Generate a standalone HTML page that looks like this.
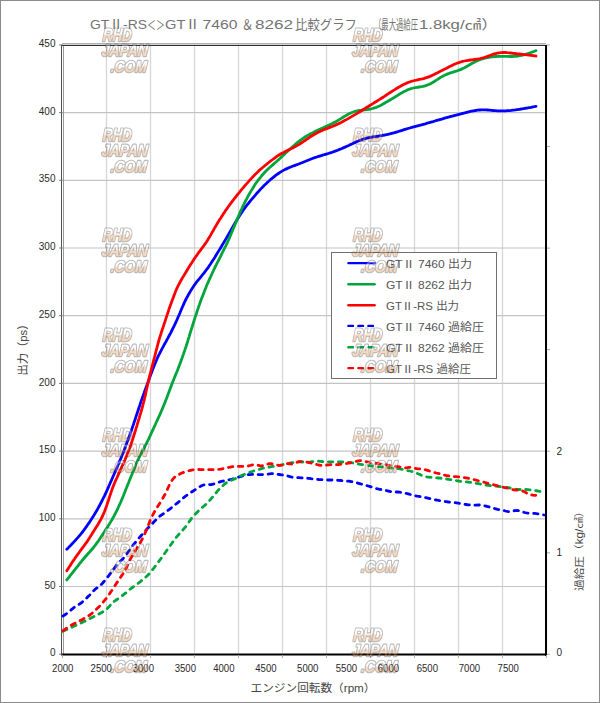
<!DOCTYPE html>
<html><head><meta charset="utf-8"><title>GTII-RS vs GTII 7460 &amp; 8262</title>
<style>
html,body{margin:0;padding:0;background:#fff;}
body{width:600px;height:703px;overflow:hidden;}
svg{display:block;}
text{font-family:"Liberation Sans","Noto Sans CJK JP",sans-serif;}
.t{fill:#2a2a2a;font-size:10px;}
.wm text{font-family:"Liberation Sans",sans-serif;font-weight:bold;font-style:italic;fill:url(#wg);stroke:#404040;stroke-width:2.4px;paint-order:stroke;stroke-linejoin:round;}
</style></head><body>
<svg width="600" height="703" viewBox="0 0 600 703">
<defs><linearGradient id="wg" gradientUnits="userSpaceOnUse" x1="0" y1="-12.5" x2="0" y2="0.5"><stop offset="0" stop-color="#ffffff"/><stop offset="0.45" stop-color="#ffffff"/><stop offset="0.55" stop-color="#f39a4c"/><stop offset="1" stop-color="#f08d37"/></linearGradient></defs>
<rect x="0" y="0" width="600" height="703" fill="#fff"/>

<rect x="0.5" y="0.5" width="599" height="702" fill="none" stroke="#8c8c8c" stroke-width="1"/>
<line x1="106.5" y1="44" x2="106.5" y2="653" stroke="#d6d6d6" stroke-width="1.3"/>
<line x1="150.5" y1="44" x2="150.5" y2="653" stroke="#d6d6d6" stroke-width="1.3"/>
<line x1="194.5" y1="44" x2="194.5" y2="653" stroke="#d6d6d6" stroke-width="1.3"/>
<line x1="238.5" y1="44" x2="238.5" y2="653" stroke="#d6d6d6" stroke-width="1.3"/>
<line x1="282.5" y1="44" x2="282.5" y2="653" stroke="#d6d6d6" stroke-width="1.3"/>
<line x1="326.5" y1="44" x2="326.5" y2="653" stroke="#d6d6d6" stroke-width="1.3"/>
<line x1="370.5" y1="44" x2="370.5" y2="653" stroke="#d6d6d6" stroke-width="1.3"/>
<line x1="414.5" y1="44" x2="414.5" y2="653" stroke="#d6d6d6" stroke-width="1.3"/>
<line x1="458.5" y1="44" x2="458.5" y2="653" stroke="#d6d6d6" stroke-width="1.3"/>
<line x1="502.5" y1="44" x2="502.5" y2="653" stroke="#d6d6d6" stroke-width="1.3"/>
<line x1="546.5" y1="44" x2="546.5" y2="653" stroke="#d6d6d6" stroke-width="1.3"/>
<line x1="62" y1="44.9" x2="545" y2="44.9" stroke="#c4c4c4" stroke-width="1.2"/>
<line x1="62" y1="112.6" x2="545" y2="112.6" stroke="#c4c4c4" stroke-width="1.2"/>
<line x1="62" y1="180.3" x2="545" y2="180.3" stroke="#c4c4c4" stroke-width="1.2"/>
<line x1="62" y1="248.0" x2="545" y2="248.0" stroke="#c4c4c4" stroke-width="1.2"/>
<line x1="62" y1="315.7" x2="545" y2="315.7" stroke="#c4c4c4" stroke-width="1.2"/>
<line x1="62" y1="383.4" x2="545" y2="383.4" stroke="#c4c4c4" stroke-width="1.2"/>
<line x1="62" y1="451.1" x2="545" y2="451.1" stroke="#c4c4c4" stroke-width="1.2"/>
<line x1="62" y1="518.8" x2="545" y2="518.8" stroke="#c4c4c4" stroke-width="1.2"/>
<line x1="62" y1="586.5" x2="545" y2="586.5" stroke="#c4c4c4" stroke-width="1.2"/>
<line x1="63.5" y1="45" x2="63.5" y2="654" stroke="#9a9a9a" stroke-width="1"/>
<line x1="62" y1="43.5" x2="546" y2="43.5" stroke="#b0b0b0" stroke-width="1"/>
<line x1="61.5" y1="45" x2="61.5" y2="655" stroke="#505050" stroke-width="1"/>
<line x1="61" y1="45.5" x2="547" y2="45.5" stroke="#303030" stroke-width="1.2"/>
<line x1="61" y1="654.5" x2="547" y2="654.5" stroke="#000" stroke-width="2"/>
<line x1="546" y1="45" x2="546" y2="656" stroke="#000" stroke-width="2"/>
<line x1="59" y1="44.9" x2="62.5" y2="44.9" stroke="#777" stroke-width="1"/>
<line x1="59" y1="112.6" x2="62.5" y2="112.6" stroke="#777" stroke-width="1"/>
<line x1="59" y1="180.3" x2="62.5" y2="180.3" stroke="#777" stroke-width="1"/>
<line x1="59" y1="248.0" x2="62.5" y2="248.0" stroke="#777" stroke-width="1"/>
<line x1="59" y1="315.7" x2="62.5" y2="315.7" stroke="#777" stroke-width="1"/>
<line x1="59" y1="383.4" x2="62.5" y2="383.4" stroke="#777" stroke-width="1"/>
<line x1="59" y1="451.1" x2="62.5" y2="451.1" stroke="#777" stroke-width="1"/>
<line x1="59" y1="518.8" x2="62.5" y2="518.8" stroke="#777" stroke-width="1"/>
<line x1="59" y1="586.5" x2="62.5" y2="586.5" stroke="#777" stroke-width="1"/>
<line x1="59" y1="654.2" x2="62.5" y2="654.2" stroke="#777" stroke-width="1"/>
<line x1="547" y1="654.3" x2="550" y2="654.3" stroke="#aaa" stroke-width="1"/>
<line x1="547" y1="552.8" x2="550" y2="552.8" stroke="#aaa" stroke-width="1"/>
<line x1="547" y1="451.2" x2="550" y2="451.2" stroke="#aaa" stroke-width="1"/>
<line x1="547" y1="349.6" x2="550" y2="349.6" stroke="#aaa" stroke-width="1"/>
<line x1="547" y1="248.1" x2="550" y2="248.1" stroke="#aaa" stroke-width="1"/>
<line x1="547" y1="146.5" x2="550" y2="146.5" stroke="#aaa" stroke-width="1"/>
<line x1="547" y1="45.0" x2="550" y2="45.0" stroke="#aaa" stroke-width="1"/>
<line x1="62.5" y1="655" x2="62.5" y2="658" stroke="#aaa" stroke-width="1"/>
<line x1="106.5" y1="655" x2="106.5" y2="658" stroke="#aaa" stroke-width="1"/>
<line x1="150.5" y1="655" x2="150.5" y2="658" stroke="#aaa" stroke-width="1"/>
<line x1="194.5" y1="655" x2="194.5" y2="658" stroke="#aaa" stroke-width="1"/>
<line x1="238.5" y1="655" x2="238.5" y2="658" stroke="#aaa" stroke-width="1"/>
<line x1="282.5" y1="655" x2="282.5" y2="658" stroke="#aaa" stroke-width="1"/>
<line x1="326.5" y1="655" x2="326.5" y2="658" stroke="#aaa" stroke-width="1"/>
<line x1="370.5" y1="655" x2="370.5" y2="658" stroke="#aaa" stroke-width="1"/>
<line x1="414.5" y1="655" x2="414.5" y2="658" stroke="#aaa" stroke-width="1"/>
<line x1="458.5" y1="655" x2="458.5" y2="658" stroke="#aaa" stroke-width="1"/>
<line x1="502.5" y1="655" x2="502.5" y2="658" stroke="#aaa" stroke-width="1"/>
<line x1="546.5" y1="655" x2="546.5" y2="658" stroke="#aaa" stroke-width="1"/>
<path d="M62.9,616.1 L64.6,615.0 L66.2,613.9 L67.8,612.7 L69.4,611.5 L70.9,610.1 L72.4,608.8 L73.9,607.6 L75.6,606.4 L77.3,605.4 L79.0,604.4 L80.7,603.3 L82.2,602.1 L83.7,600.8 L85.2,599.4 L86.7,598.0 L88.1,596.6 L89.5,595.2 L90.9,593.7 L92.2,592.3 L93.6,590.8 L95.0,589.4 L96.6,588.2 L98.1,586.9 L99.7,585.7 L101.3,584.4 L102.7,583.0 L104.0,581.5 L105.2,580.0 L106.5,578.4 L107.7,576.9 L109.0,575.3 L110.2,573.7 L111.4,572.1 L112.6,570.5 L113.8,568.9 L115.0,567.3 L116.2,565.7 L117.5,564.2 L118.9,562.8 L120.3,561.3 L121.7,559.9 L123.1,558.5 L124.5,557.0 L125.7,555.5 L126.9,553.8 L128.0,552.2 L129.2,550.6 L130.4,548.9 L131.5,547.3 L132.7,545.7 L133.9,544.1 L135.2,542.6 L136.5,541.1 L137.8,539.6 L139.1,538.0 L140.4,536.5 L141.7,535.0 L143.1,533.5 L144.4,532.0 L145.7,530.5 L147.0,529.0 L148.4,527.6 L149.8,526.1 L151.2,524.7 L152.6,523.3 L154.0,521.8 L155.4,520.4 L156.7,518.9 L158.1,517.5 L159.7,516.3 L161.3,515.1 L163.0,514.0 L164.6,512.9 L166.2,511.7 L167.8,510.5 L169.4,509.3 L171.0,508.1 L172.6,506.8 L174.1,505.6 L175.7,504.3 L177.2,503.1 L178.8,501.8 L180.3,500.5 L181.8,499.2 L183.3,497.9 L184.9,496.7 L186.5,495.5 L188.2,494.4 L189.8,493.2 L191.5,492.1 L193.2,491.0 L194.8,489.9 L196.5,488.8 L198.2,487.7 L199.9,486.7 L201.6,485.7 L203.5,485.0 L205.4,484.5 L207.3,484.4 L209.2,484.6 L211.2,484.6 L213.1,484.2 L215.0,483.6 L216.8,482.9 L218.7,482.3 L220.6,481.7 L222.6,481.2 L224.5,480.8 L226.5,480.3 L228.4,479.9 L230.4,479.5 L232.3,479.1 L234.3,478.5 L236.2,477.9 L238.1,477.3 L240.0,476.7 L241.9,476.1 L243.8,475.6 L245.8,475.1 L247.7,474.7 L249.7,474.5 L251.7,474.4 L253.7,474.5 L255.7,474.5 L257.7,474.6 L259.7,474.6 L261.7,474.6 L263.6,474.5 L265.6,474.4 L267.6,474.1 L269.6,473.8 L271.5,473.6 L273.5,473.7 L275.5,473.9 L277.5,474.2 L279.4,474.5 L281.4,474.8 L283.4,475.1 L285.4,475.4 L287.3,475.8 L289.2,476.4 L291.1,477.0 L293.0,477.4 L295.0,477.6 L297.0,477.7 L299.0,477.7 L301.0,477.8 L303.0,477.9 L305.0,478.1 L307.0,478.2 L309.0,478.4 L311.0,478.7 L313.0,478.9 L314.9,479.1 L316.9,479.3 L318.9,479.5 L320.9,479.6 L322.9,479.8 L324.9,479.9 L326.9,480.0 L328.9,480.0 L330.9,480.0 L332.9,480.0 L334.9,480.1 L336.9,480.2 L338.9,480.4 L340.9,480.5 L342.9,480.7 L344.9,480.9 L346.9,481.0 L348.9,481.2 L350.8,481.5 L352.8,481.9 L354.7,482.3 L356.7,482.8 L358.6,483.3 L360.5,483.9 L362.5,484.4 L364.4,484.9 L366.3,485.5 L368.2,486.0 L370.2,486.6 L372.1,487.2 L374.0,487.9 L375.9,488.4 L377.8,488.9 L379.8,489.3 L381.7,489.6 L383.7,490.0 L385.7,490.4 L387.6,490.8 L389.6,491.3 L391.5,491.7 L393.5,491.9 L395.5,492.0 L397.5,492.0 L399.5,492.1 L401.4,492.4 L403.4,492.8 L405.3,493.3 L407.3,493.7 L409.2,494.2 L411.1,494.7 L413.1,495.2 L415.0,495.7 L417.0,496.1 L419.0,496.4 L420.9,496.8 L422.9,497.1 L424.9,497.5 L426.8,497.9 L428.8,498.4 L430.7,498.9 L432.6,499.3 L434.6,499.7 L436.6,500.0 L438.5,500.4 L440.5,500.7 L442.5,501.1 L444.5,501.4 L446.4,501.7 L448.4,502.0 L450.4,502.2 L452.4,502.4 L454.4,502.6 L456.4,502.8 L458.4,503.1 L460.3,503.4 L462.3,503.8 L464.3,504.2 L466.2,504.5 L468.2,504.8 L470.2,504.9 L472.2,505.1 L474.2,505.2 L476.2,505.1 L478.2,505.0 L480.1,505.0 L482.1,505.3 L484.0,505.7 L486.0,506.1 L487.9,506.6 L489.9,507.2 L491.8,507.7 L493.7,508.3 L495.6,508.8 L497.6,509.3 L499.5,509.7 L501.5,510.0 L503.4,510.5 L505.4,511.0 L507.3,511.4 L509.2,511.6 L511.1,511.3 L513.1,510.9 L515.0,510.6 L517.0,510.4 L518.9,510.6 L520.8,511.1 L522.6,511.9 L524.5,512.5 L526.4,512.9 L528.4,513.1 L530.4,513.2 L532.4,513.2 L534.3,513.4 L536.3,513.6 L538.3,513.9 L540.3,514.3 L542.2,514.6 L544.2,515.0" fill="none" stroke="#0000ff" stroke-width="2.8" stroke-dasharray="4.4 5.6" stroke-linecap="round" stroke-linejoin="round"/>
<path d="M62.9,631.3 L64.7,630.5 L66.5,629.6 L68.3,628.8 L70.2,627.9 L72.0,627.1 L73.8,626.3 L75.6,625.5 L77.5,624.7 L79.3,623.8 L81.1,623.0 L82.9,622.1 L84.7,621.2 L86.5,620.3 L88.3,619.4 L90.1,618.5 L91.9,617.6 L93.7,616.7 L95.5,615.8 L97.3,615.0 L99.0,614.0 L100.8,613.1 L102.5,612.0 L104.1,610.8 L105.7,609.7 L107.3,608.5 L108.7,607.1 L110.0,605.6 L111.1,604.0 L112.5,602.6 L114.1,601.4 L115.7,600.3 L117.4,599.2 L119.0,598.0 L120.6,596.8 L122.2,595.6 L123.8,594.4 L125.4,593.2 L126.9,591.9 L128.5,590.6 L130.0,589.3 L131.6,588.1 L133.2,586.9 L134.9,585.8 L136.5,584.6 L138.1,583.4 L139.7,582.2 L141.2,580.9 L142.8,579.6 L144.3,578.3 L145.8,577.0 L147.3,575.7 L148.7,574.3 L150.0,572.8 L151.3,571.2 L152.5,569.7 L153.8,568.1 L155.0,566.5 L156.3,565.0 L157.5,563.4 L158.6,561.7 L159.8,560.1 L161.0,558.5 L162.2,556.9 L163.3,555.2 L164.5,553.6 L165.7,552.0 L166.8,550.3 L168.0,548.7 L169.1,547.1 L170.3,545.4 L171.5,543.8 L172.6,542.2 L173.8,540.6 L175.0,539.0 L176.2,537.4 L177.5,535.9 L178.8,534.4 L180.2,532.9 L181.5,531.4 L182.9,529.9 L184.2,528.4 L185.5,526.9 L186.7,525.3 L187.8,523.6 L189.0,522.0 L190.1,520.4 L191.3,518.7 L192.5,517.1 L193.8,515.6 L195.2,514.2 L196.6,512.8 L198.0,511.4 L199.5,510.0 L200.9,508.6 L202.4,507.3 L204.0,506.0 L205.5,504.7 L207.0,503.4 L208.4,501.9 L209.7,500.4 L211.0,498.9 L212.3,497.4 L213.6,495.8 L214.8,494.3 L216.1,492.8 L217.4,491.2 L218.7,489.7 L220.0,488.2 L221.4,486.8 L223.0,485.5 L224.5,484.2 L226.1,483.0 L227.8,482.0 L229.6,481.1 L231.4,480.3 L233.2,479.5 L235.0,478.7 L236.8,477.8 L238.6,476.9 L240.4,476.0 L242.3,475.2 L244.1,474.5 L246.0,473.7 L247.9,473.0 L249.7,472.3 L251.6,471.7 L253.5,471.0 L255.4,470.4 L257.3,469.8 L259.3,469.3 L261.2,468.7 L263.1,468.2 L265.1,467.8 L267.1,467.4 L269.0,467.1 L271.0,466.7 L273.0,466.4 L275.0,466.2 L276.9,465.9 L278.9,465.5 L280.9,465.0 L282.8,464.6 L284.7,464.1 L286.7,463.7 L288.7,463.3 L290.6,462.9 L292.6,462.6 L294.6,462.3 L296.6,462.0 L298.6,461.9 L300.5,461.9 L302.5,462.0 L304.5,462.1 L306.5,462.1 L308.5,462.1 L310.5,461.9 L312.5,461.6 L314.5,461.3 L316.5,461.2 L318.4,461.2 L320.4,461.4 L322.4,461.5 L324.4,461.7 L326.4,461.8 L328.4,461.8 L330.4,461.9 L332.4,461.9 L334.4,462.0 L336.4,462.0 L338.4,462.0 L340.4,462.0 L342.4,462.0 L344.4,462.1 L346.4,462.2 L348.4,462.4 L350.4,462.6 L352.4,462.9 L354.4,463.2 L356.3,463.6 L358.3,464.0 L360.3,464.3 L362.3,464.6 L364.2,464.9 L366.2,465.2 L368.2,465.5 L370.2,465.7 L372.2,466.0 L374.2,466.2 L376.2,466.4 L378.2,466.6 L380.2,466.8 L382.2,466.9 L384.1,467.2 L386.1,467.4 L388.1,467.6 L390.1,467.9 L392.1,468.1 L394.1,468.3 L396.1,468.5 L398.1,468.7 L400.1,468.9 L402.0,469.3 L404.0,469.7 L405.9,470.1 L407.9,470.6 L409.8,471.0 L411.8,471.5 L413.7,472.1 L415.6,472.7 L417.5,473.5 L419.3,474.2 L421.1,475.1 L422.9,475.9 L424.8,476.5 L426.7,476.9 L428.7,477.1 L430.7,477.3 L432.7,477.4 L434.7,477.6 L436.7,477.8 L438.7,478.0 L440.7,478.2 L442.7,478.5 L444.7,478.7 L446.6,479.0 L448.6,479.3 L450.6,479.6 L452.6,480.0 L454.5,480.3 L456.5,480.7 L458.5,481.0 L460.5,481.3 L462.5,481.5 L464.4,481.7 L466.4,481.9 L468.4,482.1 L470.4,482.3 L472.4,482.6 L474.4,482.9 L476.3,483.3 L478.3,483.6 L480.3,484.0 L482.2,484.4 L484.2,484.8 L486.2,485.1 L488.2,485.3 L490.2,485.5 L492.2,485.7 L494.2,485.9 L496.2,486.1 L498.1,486.3 L500.1,486.5 L502.1,486.8 L504.1,487.1 L506.1,487.4 L508.1,487.7 L510.0,488.0 L512.0,488.4 L514.0,488.8 L515.9,489.2 L517.9,489.4 L519.9,489.5 L521.9,489.4 L523.9,489.4 L525.8,489.5 L527.8,489.6 L529.8,489.8 L531.8,490.1 L533.8,490.4 L535.8,490.7 L537.8,491.0 L539.7,491.4 L541.7,491.7" fill="none" stroke="#00a53c" stroke-width="2.8" stroke-dasharray="4.4 5.6" stroke-linecap="round" stroke-linejoin="round"/>
<path d="M62.9,630.7 L64.6,629.6 L66.2,628.5 L67.9,627.4 L69.6,626.3 L71.2,625.2 L73.0,624.2 L74.8,623.3 L76.6,622.4 L78.3,621.5 L80.1,620.6 L81.9,619.7 L83.6,618.7 L85.4,617.7 L87.1,616.7 L88.8,615.7 L90.5,614.5 L92.0,613.3 L93.5,611.9 L95.0,610.6 L96.4,609.2 L97.9,607.8 L99.3,606.4 L100.6,604.9 L101.9,603.4 L103.3,601.9 L104.6,600.4 L105.9,598.9 L107.1,597.3 L108.2,595.7 L109.4,594.0 L110.5,592.3 L111.6,590.7 L112.7,589.0 L113.8,587.3 L114.9,585.7 L116.0,584.0 L117.1,582.4 L118.2,580.7 L119.4,579.0 L120.5,577.4 L121.6,575.7 L122.8,574.1 L123.9,572.4 L125.0,570.7 L125.9,569.0 L126.7,567.1 L127.4,565.3 L128.2,563.5 L129.0,561.6 L129.9,559.8 L130.9,558.1 L131.9,556.4 L132.9,554.6 L133.9,552.9 L135.0,551.2 L136.0,549.5 L137.1,547.8 L138.1,546.1 L139.2,544.4 L140.2,542.7 L141.2,541.0 L142.2,539.2 L143.1,537.4 L143.9,535.6 L144.8,533.8 L145.6,532.0 L146.4,530.1 L147.2,528.3 L147.9,526.4 L148.6,524.6 L149.3,522.7 L150.0,520.8 L150.8,519.0 L151.7,517.2 L152.6,515.4 L153.5,513.6 L154.4,511.8 L155.4,510.1 L156.4,508.4 L157.5,506.7 L158.6,505.1 L159.7,503.4 L160.8,501.7 L161.8,500.0 L162.8,498.2 L163.8,496.5 L164.8,494.8 L165.7,493.0 L166.6,491.2 L167.4,489.4 L168.2,487.5 L169.0,485.7 L169.9,483.9 L170.8,482.1 L171.9,480.5 L173.1,478.9 L174.4,477.4 L175.9,476.2 L177.6,475.1 L179.4,474.2 L181.2,473.3 L183.0,472.6 L184.9,471.9 L186.8,471.3 L188.7,470.8 L190.7,470.3 L192.6,469.9 L194.6,469.6 L196.6,469.4 L198.6,469.5 L200.6,469.6 L202.6,469.6 L204.6,469.7 L206.6,469.7 L208.6,469.7 L210.6,469.7 L212.6,469.6 L214.6,469.5 L216.6,469.4 L218.6,469.3 L220.6,469.1 L222.5,468.8 L224.5,468.5 L226.5,468.1 L228.4,467.5 L230.3,467.1 L232.3,466.7 L234.3,466.5 L236.3,466.4 L238.3,466.4 L240.3,466.4 L242.3,466.4 L244.3,466.5 L246.2,466.4 L248.2,466.0 L250.1,465.5 L252.0,465.0 L254.0,464.7 L255.9,464.8 L257.8,465.2 L259.8,465.6 L261.7,465.8 L263.6,465.6 L265.4,465.0 L267.3,464.3 L269.2,463.7 L271.0,463.6 L272.9,464.0 L274.8,464.6 L276.7,465.0 L278.7,465.3 L280.6,465.3 L282.5,465.0 L284.4,464.3 L286.3,463.8 L288.1,463.6 L289.9,463.9 L291.8,464.0 L293.6,463.6 L295.4,462.9 L297.2,462.2 L299.1,461.7 L301.1,461.6 L303.1,461.6 L305.1,461.9 L307.0,462.2 L309.0,462.6 L310.9,463.0 L312.9,463.5 L314.8,464.0 L316.8,464.5 L318.7,465.0 L320.7,465.3 L322.6,465.4 L324.6,465.2 L326.6,465.0 L328.6,464.8 L330.6,464.7 L332.6,464.7 L334.6,464.7 L336.6,464.6 L338.5,464.5 L340.5,464.3 L342.5,464.0 L344.5,463.8 L346.5,463.5 L348.5,463.1 L350.4,462.8 L352.4,462.4 L354.3,461.9 L356.3,461.4 L358.2,460.9 L360.1,460.7 L362.1,460.8 L364.0,461.1 L366.0,461.6 L367.9,462.0 L369.9,462.5 L371.8,462.8 L373.8,463.1 L375.8,463.3 L377.8,463.5 L379.8,463.7 L381.8,464.0 L383.7,464.4 L385.7,464.7 L387.7,465.1 L389.6,465.4 L391.6,465.7 L393.6,466.0 L395.6,466.3 L397.6,466.6 L399.5,466.9 L401.5,467.3 L403.4,467.7 L405.3,467.9 L407.2,467.7 L409.1,467.3 L411.0,467.3 L412.9,467.7 L414.8,468.2 L416.7,468.6 L418.7,468.9 L420.7,469.0 L422.7,469.2 L424.7,469.6 L426.6,470.1 L428.5,470.7 L430.4,471.3 L432.3,471.9 L434.2,472.5 L436.2,473.0 L438.1,473.4 L440.0,473.9 L442.0,474.4 L443.9,474.9 L445.9,475.4 L447.8,475.8 L449.8,476.1 L451.8,476.4 L453.8,476.6 L455.8,476.7 L457.8,476.9 L459.7,477.0 L461.7,477.3 L463.7,477.6 L465.7,477.9 L467.7,478.2 L469.6,478.6 L471.6,479.1 L473.5,479.5 L475.5,480.0 L477.4,480.5 L479.3,481.0 L481.3,481.5 L483.2,482.0 L485.1,482.5 L487.1,483.1 L489.0,483.6 L491.0,484.1 L492.9,484.6 L494.8,485.1 L496.7,485.6 L498.7,486.2 L500.6,486.7 L502.6,487.1 L504.5,487.6 L506.5,488.0 L508.4,488.4 L510.4,488.9 L512.3,489.5 L514.2,489.9 L516.2,490.1 L518.2,490.2 L520.1,490.2 L522.0,490.6 L523.7,491.4 L525.5,492.4 L527.2,493.4 L529.0,494.2 L530.9,494.8 L532.8,495.2 L534.8,495.3 L535.8,495.3" fill="none" stroke="#ff0000" stroke-width="2.8" stroke-dasharray="4.4 5.6" stroke-linecap="round" stroke-linejoin="round"/>
<path d="M66.8,549.3 L68.2,547.9 L69.6,546.4 L71.0,545.0 L72.4,543.5 L73.7,542.1 L75.1,540.6 L76.4,539.1 L77.8,537.6 L79.1,536.1 L80.4,534.6 L81.6,533.1 L82.9,531.5 L84.1,529.9 L85.2,528.3 L86.4,526.7 L87.5,525.0 L88.7,523.4 L89.8,521.7 L90.9,520.0 L92.0,518.3 L93.0,516.7 L94.1,515.0 L95.1,513.3 L96.2,511.5 L97.2,509.8 L98.1,508.1 L99.1,506.3 L100.0,504.6 L101.0,502.8 L101.9,501.0 L102.8,499.2 L103.7,497.4 L104.6,495.6 L105.4,493.8 L106.3,492.0 L107.1,490.2 L107.9,488.4 L108.7,486.5 L109.5,484.7 L110.3,482.8 L111.1,481.0 L111.9,479.2 L112.7,477.3 L113.5,475.5 L114.3,473.7 L115.1,471.8 L115.9,470.0 L116.7,468.2 L117.5,466.3 L118.3,464.5 L119.1,462.7 L119.8,460.8 L120.6,459.0 L121.4,457.1 L122.1,455.3 L122.9,453.4 L123.6,451.6 L124.3,449.7 L125.0,447.8 L125.7,445.9 L126.4,444.1 L127.1,442.2 L127.8,440.3 L128.5,438.4 L129.2,436.6 L129.9,434.7 L130.5,432.8 L131.2,430.9 L131.9,429.0 L132.5,427.1 L133.2,425.2 L133.8,423.3 L134.4,421.4 L135.1,419.5 L135.7,417.6 L136.3,415.7 L137.0,413.8 L137.6,411.9 L138.2,410.0 L138.8,408.1 L139.5,406.2 L140.1,404.3 L140.7,402.5 L141.4,400.6 L142.0,398.7 L142.7,396.8 L143.4,394.9 L144.1,393.0 L144.7,391.1 L145.4,389.3 L146.1,387.4 L146.8,385.5 L147.5,383.6 L148.2,381.7 L148.9,379.9 L149.5,378.0 L150.2,376.1 L150.9,374.2 L151.6,372.4 L152.3,370.5 L153.0,368.6 L153.8,366.7 L154.5,364.9 L155.3,363.0 L156.0,361.2 L156.8,359.4 L157.6,357.5 L158.5,355.7 L159.4,353.9 L160.3,352.1 L161.2,350.4 L162.1,348.6 L163.1,346.9 L164.0,345.1 L165.0,343.3 L166.0,341.6 L166.9,339.8 L167.9,338.1 L168.8,336.3 L169.8,334.5 L170.7,332.8 L171.6,331.0 L172.5,329.2 L173.4,327.4 L174.3,325.6 L175.1,323.8 L176.0,322.0 L176.8,320.2 L177.6,318.3 L178.4,316.5 L179.2,314.7 L180.0,312.8 L180.7,311.0 L181.5,309.1 L182.3,307.3 L183.1,305.5 L183.9,303.6 L184.7,301.8 L185.6,300.0 L186.5,298.2 L187.5,296.5 L188.4,294.7 L189.4,293.0 L190.4,291.3 L191.5,289.6 L192.5,287.9 L193.6,286.2 L194.7,284.6 L195.9,283.0 L197.1,281.4 L198.4,279.8 L199.7,278.3 L200.9,276.8 L202.2,275.2 L203.5,273.7 L204.7,272.1 L205.9,270.5 L207.1,268.9 L208.3,267.3 L209.4,265.6 L210.5,264.0 L211.6,262.3 L212.7,260.6 L213.8,258.9 L214.9,257.2 L215.9,255.5 L216.9,253.8 L218.0,252.1 L219.0,250.4 L220.1,248.7 L221.1,247.0 L222.1,245.3 L223.1,243.6 L224.2,241.8 L225.2,240.1 L226.2,238.4 L227.2,236.7 L228.2,234.9 L229.2,233.2 L230.2,231.5 L231.2,229.7 L232.2,228.0 L233.2,226.2 L234.2,224.5 L235.2,222.8 L236.2,221.1 L237.3,219.4 L238.3,217.7 L239.4,216.0 L240.5,214.3 L241.6,212.6 L242.7,211.0 L243.8,209.3 L245.0,207.7 L246.2,206.1 L247.4,204.5 L248.7,203.0 L250.0,201.4 L251.2,199.9 L252.5,198.4 L253.8,196.8 L255.1,195.3 L256.4,193.8 L257.8,192.3 L259.1,190.8 L260.4,189.4 L261.8,187.9 L263.2,186.5 L264.6,185.1 L266.1,183.7 L267.5,182.3 L269.0,181.0 L270.5,179.6 L272.0,178.4 L273.6,177.1 L275.1,175.9 L276.7,174.7 L278.4,173.5 L280.0,172.4 L281.7,171.4 L283.4,170.4 L285.2,169.4 L287.0,168.6 L288.8,167.8 L290.7,167.0 L292.5,166.3 L294.4,165.6 L296.3,164.9 L298.2,164.2 L300.0,163.5 L301.9,162.8 L303.7,162.0 L305.6,161.3 L307.4,160.5 L309.3,159.7 L311.1,159.0 L313.0,158.3 L314.9,157.6 L316.8,157.0 L318.7,156.4 L320.6,155.8 L322.5,155.2 L324.4,154.7 L326.3,154.1 L328.3,153.5 L330.2,152.9 L332.0,152.3 L333.9,151.6 L335.8,150.9 L337.7,150.2 L339.5,149.4 L341.4,148.7 L343.2,147.9 L345.1,147.1 L346.9,146.3 L348.7,145.5 L350.5,144.6 L352.3,143.8 L354.1,142.9 L355.9,142.1 L357.8,141.2 L359.6,140.5 L361.4,139.8 L363.3,139.2 L365.2,138.6 L367.2,138.1 L369.1,137.7 L371.1,137.3 L373.0,136.9 L375.0,136.6 L377.0,136.3 L379.0,136.0 L380.9,135.6 L382.9,135.3 L384.9,135.0 L386.8,134.6 L388.8,134.2 L390.7,133.7 L392.7,133.2 L394.6,132.7 L396.5,132.1 L398.4,131.5 L400.3,130.9 L402.2,130.3 L404.1,129.7 L406.0,129.1 L407.9,128.5 L409.9,128.0 L411.8,127.4 L413.7,126.9 L415.7,126.4 L417.6,125.9 L419.5,125.4 L421.5,124.9 L423.4,124.3 L425.3,123.8 L427.2,123.2 L429.2,122.7 L431.1,122.1 L433.0,121.6 L434.9,121.0 L436.8,120.4 L438.8,119.8 L440.7,119.3 L442.6,118.8 L444.5,118.2 L446.5,117.7 L448.4,117.2 L450.3,116.7 L452.3,116.2 L454.2,115.6 L456.1,115.1 L458.1,114.6 L460.0,114.1 L461.9,113.6 L463.9,113.1 L465.8,112.6 L467.7,112.1 L469.7,111.6 L471.6,111.2 L473.6,110.8 L475.5,110.5 L477.5,110.2 L479.5,110.0 L481.5,109.9 L483.5,109.8 L485.5,109.9 L487.5,110.0 L489.4,110.1 L491.4,110.3 L493.4,110.5 L495.4,110.6 L497.4,110.8 L499.4,110.9 L501.4,110.9 L503.4,110.9 L505.4,110.9 L507.4,110.7 L509.4,110.6 L511.3,110.4 L513.3,110.1 L515.3,109.9 L517.3,109.6 L519.3,109.3 L521.2,109.0 L523.2,108.7 L525.2,108.3 L527.2,108.0 L529.1,107.6 L531.1,107.3 L533.1,106.9 L535.0,106.5 L536.0,106.3" fill="none" stroke="#0000ff" stroke-width="2.8" stroke-linejoin="round" stroke-linecap="round"/>
<path d="M66.8,579.9 L68.0,578.3 L69.3,576.8 L70.5,575.2 L71.8,573.6 L73.0,572.1 L74.3,570.5 L75.5,568.9 L76.7,567.4 L78.0,565.8 L79.2,564.2 L80.5,562.6 L81.7,561.1 L83.0,559.5 L84.3,558.0 L85.6,556.5 L86.9,555.0 L88.2,553.5 L89.6,552.0 L90.9,550.5 L92.2,549.0 L93.5,547.5 L94.7,545.9 L95.9,544.3 L97.1,542.7 L98.3,541.1 L99.4,539.4 L100.5,537.8 L101.6,536.1 L102.7,534.4 L103.8,532.8 L104.9,531.1 L106.0,529.4 L107.1,527.7 L108.1,526.0 L109.2,524.3 L110.2,522.6 L111.2,520.9 L112.3,519.2 L113.2,517.4 L114.2,515.7 L115.1,513.9 L116.0,512.1 L116.9,510.3 L117.8,508.5 L118.6,506.7 L119.4,504.9 L120.3,503.0 L121.1,501.2 L121.9,499.4 L122.6,497.5 L123.4,495.7 L124.1,493.8 L124.9,492.0 L125.6,490.1 L126.3,488.2 L127.1,486.4 L127.8,484.5 L128.6,482.7 L129.3,480.8 L130.1,478.9 L130.8,477.1 L131.6,475.2 L132.3,473.4 L133.1,471.5 L133.8,469.7 L134.6,467.8 L135.4,466.0 L136.1,464.1 L136.9,462.3 L137.7,460.5 L138.6,458.7 L139.4,456.9 L140.3,455.1 L141.3,453.3 L142.2,451.5 L143.1,449.8 L144.1,448.0 L145.0,446.2 L145.9,444.4 L146.8,442.7 L147.7,440.9 L148.6,439.1 L149.4,437.3 L150.3,435.4 L151.1,433.6 L151.9,431.8 L152.8,430.0 L153.6,428.2 L154.5,426.4 L155.3,424.5 L156.1,422.7 L157.0,420.9 L157.8,419.1 L158.6,417.3 L159.5,415.4 L160.3,413.6 L161.1,411.8 L161.9,409.9 L162.6,408.1 L163.4,406.2 L164.2,404.4 L164.9,402.5 L165.6,400.7 L166.4,398.8 L167.1,396.9 L167.8,395.1 L168.5,393.2 L169.2,391.3 L169.9,389.4 L170.6,387.6 L171.3,385.7 L172.0,383.8 L172.7,382.0 L173.5,380.1 L174.2,378.2 L175.0,376.4 L175.7,374.5 L176.5,372.7 L177.3,370.8 L178.0,369.0 L178.7,367.1 L179.4,365.2 L180.1,363.4 L180.8,361.5 L181.5,359.6 L182.2,357.7 L182.8,355.8 L183.5,353.9 L184.1,352.1 L184.8,350.2 L185.4,348.3 L186.1,346.4 L186.7,344.5 L187.3,342.6 L187.9,340.6 L188.5,338.7 L189.1,336.8 L189.6,334.9 L190.2,333.0 L190.8,331.1 L191.4,329.2 L192.0,327.3 L192.6,325.3 L193.2,323.4 L193.8,321.5 L194.4,319.6 L195.0,317.7 L195.6,315.8 L196.3,313.9 L196.9,312.0 L197.5,310.1 L198.2,308.2 L198.8,306.3 L199.5,304.4 L200.1,302.6 L200.8,300.7 L201.5,298.8 L202.2,296.9 L203.0,295.1 L203.7,293.2 L204.4,291.3 L205.1,289.5 L205.9,287.6 L206.6,285.8 L207.4,283.9 L208.2,282.1 L209.0,280.2 L209.8,278.4 L210.7,276.6 L211.5,274.8 L212.3,273.0 L213.2,271.1 L214.0,269.3 L214.9,267.5 L215.8,265.7 L216.7,263.9 L217.6,262.2 L218.5,260.4 L219.4,258.6 L220.3,256.8 L221.2,255.0 L222.1,253.2 L223.0,251.4 L223.8,249.6 L224.7,247.8 L225.6,246.1 L226.5,244.3 L227.4,242.5 L228.2,240.6 L229.1,238.8 L229.9,237.0 L230.6,235.1 L231.4,233.3 L232.2,231.5 L232.9,229.6 L233.7,227.8 L234.5,225.9 L235.2,224.0 L236.0,222.2 L236.7,220.3 L237.5,218.5 L238.3,216.6 L239.1,214.8 L239.8,213.0 L240.6,211.1 L241.5,209.3 L242.3,207.5 L243.2,205.7 L244.1,203.9 L244.9,202.1 L245.9,200.3 L246.8,198.6 L247.7,196.8 L248.7,195.0 L249.7,193.3 L250.7,191.6 L251.7,189.9 L252.8,188.2 L253.8,186.5 L254.9,184.8 L256.0,183.1 L257.2,181.5 L258.4,179.9 L259.6,178.3 L260.9,176.8 L262.1,175.2 L263.5,173.7 L264.8,172.3 L266.2,170.8 L267.6,169.4 L269.1,168.1 L270.6,166.7 L272.1,165.4 L273.6,164.1 L275.1,162.8 L276.6,161.5 L278.1,160.1 L279.6,158.8 L281.0,157.4 L282.5,156.1 L284.0,154.7 L285.4,153.3 L286.9,152.0 L288.3,150.6 L289.8,149.2 L291.3,147.9 L292.8,146.5 L294.3,145.2 L295.8,143.9 L297.3,142.7 L298.9,141.4 L300.5,140.2 L302.1,139.0 L303.7,137.9 L305.4,136.8 L307.1,135.8 L308.9,134.8 L310.6,133.8 L312.4,132.9 L314.1,132.0 L315.9,131.1 L317.7,130.2 L319.5,129.4 L321.4,128.5 L323.2,127.7 L325.0,126.9 L326.8,126.0 L328.7,125.2 L330.5,124.4 L332.3,123.5 L334.0,122.6 L335.8,121.7 L337.5,120.7 L339.2,119.6 L340.9,118.6 L342.6,117.5 L344.3,116.5 L346.1,115.5 L347.8,114.5 L349.6,113.6 L351.4,112.7 L353.2,112.0 L355.1,111.4 L357.0,110.9 L358.9,110.5 L360.9,110.3 L362.8,110.0 L364.8,109.8 L366.8,109.6 L368.7,109.3 L370.7,109.0 L372.6,108.5 L374.5,107.9 L376.4,107.3 L378.2,106.5 L380.0,105.7 L381.8,104.8 L383.5,103.8 L385.2,102.8 L387.0,101.8 L388.7,100.8 L390.4,99.8 L392.1,98.8 L393.8,97.7 L395.5,96.7 L397.2,95.6 L398.9,94.5 L400.6,93.5 L402.4,92.5 L404.1,91.5 L405.9,90.7 L407.7,89.8 L409.6,89.1 L411.4,88.5 L413.4,88.0 L415.3,87.6 L417.2,87.3 L419.2,87.0 L421.2,86.7 L423.1,86.3 L425.0,85.8 L426.9,85.2 L428.7,84.5 L430.5,83.7 L432.2,82.7 L433.9,81.7 L435.6,80.6 L437.2,79.6 L438.9,78.5 L440.6,77.4 L442.3,76.4 L444.1,75.5 L445.9,74.7 L447.7,73.9 L449.6,73.2 L451.5,72.6 L453.4,72.0 L455.3,71.4 L457.1,70.8 L459.0,70.1 L460.9,69.4 L462.7,68.6 L464.5,67.7 L466.2,66.8 L468.0,65.8 L469.7,64.8 L471.4,63.8 L473.2,62.8 L474.9,61.9 L476.7,61.0 L478.5,60.2 L480.4,59.5 L482.3,58.9 L484.2,58.3 L486.1,57.9 L488.0,57.5 L490.0,57.2 L492.0,56.9 L494.0,56.7 L496.0,56.5 L498.0,56.4 L500.0,56.3 L501.9,56.3 L503.9,56.3 L505.9,56.3 L507.9,56.4 L509.9,56.5 L511.9,56.5 L513.9,56.4 L515.9,56.3 L517.8,56.0 L519.8,55.7 L521.7,55.3 L523.7,54.8 L525.6,54.3 L527.5,53.7 L529.4,53.0 L531.3,52.4 L533.2,51.7 L535.1,51.0 L536.0,50.7" fill="none" stroke="#00a53c" stroke-width="2.8" stroke-linejoin="round" stroke-linecap="round"/>
<path d="M66.8,570.7 L67.9,569.0 L69.0,567.3 L70.1,565.7 L71.1,564.0 L72.2,562.3 L73.4,560.6 L74.5,559.0 L75.6,557.3 L76.8,555.7 L77.9,554.1 L79.1,552.5 L80.3,550.8 L81.5,549.2 L82.7,547.6 L83.9,546.0 L85.1,544.4 L86.2,542.8 L87.4,541.2 L88.5,539.5 L89.6,537.8 L90.6,536.1 L91.7,534.4 L92.7,532.7 L93.8,531.0 L94.9,529.3 L95.9,527.6 L97.0,526.0 L98.1,524.3 L99.1,522.5 L100.1,520.8 L101.0,519.1 L101.9,517.3 L102.8,515.5 L103.6,513.6 L104.4,511.8 L105.1,509.9 L105.8,508.1 L106.5,506.2 L107.1,504.3 L107.7,502.4 L108.4,500.5 L109.0,498.6 L109.6,496.7 L110.2,494.8 L110.9,492.9 L111.5,491.0 L112.2,489.1 L112.8,487.2 L113.6,485.4 L114.3,483.5 L115.1,481.7 L115.9,479.9 L116.8,478.0 L117.6,476.2 L118.4,474.4 L119.2,472.6 L120.1,470.7 L120.9,468.9 L121.7,467.1 L122.5,465.3 L123.4,463.4 L124.2,461.6 L125.0,459.8 L125.7,457.9 L126.5,456.1 L127.2,454.2 L128.0,452.4 L128.7,450.5 L129.4,448.6 L130.1,446.7 L130.8,444.9 L131.4,443.0 L132.1,441.1 L132.7,439.2 L133.3,437.3 L133.9,435.4 L134.5,433.5 L135.1,431.5 L135.7,429.6 L136.3,427.7 L136.9,425.8 L137.4,423.9 L138.0,422.0 L138.6,420.0 L139.2,418.1 L139.7,416.2 L140.3,414.3 L140.9,412.4 L141.4,410.4 L142.0,408.5 L142.5,406.6 L143.0,404.7 L143.5,402.7 L144.0,400.8 L144.5,398.8 L144.9,396.9 L145.4,394.9 L145.8,393.0 L146.2,391.0 L146.6,389.1 L147.1,387.1 L147.5,385.2 L147.9,383.2 L148.4,381.2 L148.8,379.3 L149.3,377.4 L149.8,375.4 L150.3,373.5 L150.8,371.5 L151.3,369.6 L151.8,367.7 L152.3,365.7 L152.8,363.8 L153.3,361.9 L153.8,359.9 L154.3,358.0 L154.8,356.0 L155.3,354.1 L155.8,352.2 L156.3,350.2 L156.8,348.3 L157.3,346.3 L157.8,344.4 L158.3,342.5 L158.9,340.5 L159.4,338.6 L160.0,336.7 L160.6,334.8 L161.2,332.9 L161.8,331.0 L162.4,329.1 L163.1,327.2 L163.7,325.3 L164.3,323.4 L165.0,321.5 L165.6,319.6 L166.2,317.7 L166.8,315.8 L167.4,313.9 L168.1,312.0 L168.7,310.1 L169.3,308.2 L170.0,306.3 L170.7,304.4 L171.4,302.5 L172.1,300.6 L172.8,298.8 L173.5,296.9 L174.2,295.0 L174.9,293.2 L175.6,291.3 L176.4,289.5 L177.2,287.6 L178.1,285.8 L179.0,284.1 L180.0,282.3 L180.9,280.6 L181.9,278.8 L182.9,277.1 L184.0,275.4 L185.0,273.7 L186.0,272.0 L187.1,270.2 L188.1,268.5 L189.2,266.8 L190.2,265.1 L191.3,263.5 L192.4,261.8 L193.5,260.1 L194.6,258.4 L195.7,256.8 L196.9,255.1 L198.0,253.5 L199.2,251.9 L200.4,250.3 L201.6,248.7 L202.8,247.1 L204.0,245.5 L205.1,243.9 L206.3,242.2 L207.4,240.5 L208.4,238.8 L209.5,237.1 L210.5,235.4 L211.4,233.7 L212.4,231.9 L213.4,230.2 L214.4,228.4 L215.4,226.7 L216.4,225.0 L217.4,223.2 L218.5,221.5 L219.5,219.8 L220.6,218.2 L221.7,216.5 L222.8,214.8 L223.9,213.1 L225.0,211.5 L226.1,209.8 L227.3,208.2 L228.4,206.5 L229.6,204.9 L230.8,203.3 L232.0,201.7 L233.2,200.1 L234.4,198.5 L235.7,197.0 L236.9,195.4 L238.1,193.8 L239.4,192.3 L240.7,190.7 L242.0,189.2 L243.3,187.7 L244.5,186.1 L245.8,184.6 L247.2,183.1 L248.5,181.6 L249.8,180.1 L251.2,178.6 L252.5,177.2 L253.9,175.7 L255.3,174.3 L256.7,172.9 L258.2,171.5 L259.6,170.1 L261.1,168.8 L262.7,167.5 L264.2,166.2 L265.7,165.0 L267.3,163.7 L268.8,162.5 L270.4,161.2 L272.0,160.0 L273.6,158.8 L275.2,157.6 L276.8,156.4 L278.5,155.3 L280.2,154.3 L281.9,153.3 L283.7,152.4 L285.4,151.5 L287.2,150.6 L289.0,149.7 L290.8,148.8 L292.6,148.0 L294.4,147.0 L296.2,146.1 L297.9,145.1 L299.6,144.1 L301.3,143.0 L302.9,141.9 L304.6,140.8 L306.2,139.6 L307.9,138.5 L309.5,137.4 L311.2,136.3 L312.9,135.2 L314.6,134.2 L316.4,133.2 L318.1,132.3 L319.9,131.5 L321.8,130.6 L323.6,129.8 L325.4,129.1 L327.3,128.4 L329.2,127.6 L331.0,126.9 L332.9,126.2 L334.7,125.4 L336.6,124.6 L338.4,123.8 L340.2,122.9 L342.0,122.0 L343.7,121.0 L345.5,120.1 L347.2,119.1 L349.0,118.1 L350.7,117.1 L352.4,116.1 L354.1,115.1 L355.9,114.1 L357.6,113.1 L359.3,112.0 L361.0,111.0 L362.7,110.0 L364.4,108.9 L366.1,107.8 L367.8,106.8 L369.5,105.7 L371.2,104.6 L372.9,103.6 L374.6,102.5 L376.3,101.5 L378.0,100.4 L379.7,99.4 L381.4,98.3 L383.1,97.2 L384.8,96.1 L386.4,95.0 L388.1,93.9 L389.8,92.8 L391.5,91.7 L393.1,90.6 L394.8,89.6 L396.5,88.5 L398.2,87.5 L400.0,86.5 L401.7,85.5 L403.5,84.6 L405.3,83.7 L407.1,82.9 L408.9,82.2 L410.8,81.5 L412.7,81.0 L414.7,80.5 L416.6,80.1 L418.6,79.6 L420.5,79.2 L422.4,78.8 L424.4,78.3 L426.3,77.7 L428.1,77.1 L430.0,76.4 L431.8,75.6 L433.6,74.7 L435.4,73.8 L437.2,72.9 L439.0,72.0 L440.8,71.1 L442.5,70.2 L444.3,69.3 L446.1,68.4 L447.9,67.5 L449.7,66.6 L451.5,65.7 L453.3,64.8 L455.1,64.0 L456.9,63.3 L458.8,62.6 L460.7,62.0 L462.6,61.4 L464.5,61.0 L466.5,60.6 L468.5,60.3 L470.4,60.0 L472.4,59.8 L474.4,59.5 L476.4,59.2 L478.3,58.9 L480.3,58.5 L482.2,58.0 L484.1,57.5 L486.0,56.9 L487.9,56.2 L489.8,55.5 L491.7,54.8 L493.5,54.2 L495.4,53.6 L497.4,53.2 L499.3,52.8 L501.3,52.6 L503.2,52.5 L505.2,52.5 L507.2,52.7 L509.2,52.8 L511.2,53.0 L513.1,53.3 L515.1,53.5 L517.1,53.8 L519.1,54.0 L521.1,54.2 L523.1,54.5 L525.1,54.7 L527.1,54.9 L529.0,55.2 L531.0,55.4 L533.0,55.6 L535.0,55.9 L536.0,56.0" fill="none" stroke="#ff0000" stroke-width="2.8" stroke-linejoin="round" stroke-linecap="round"/>
<text class="t" x="55.5" y="47.0" text-anchor="end">450</text>
<text class="t" x="55.5" y="114.7" text-anchor="end">400</text>
<text class="t" x="55.5" y="182.4" text-anchor="end">350</text>
<text class="t" x="55.5" y="250.1" text-anchor="end">300</text>
<text class="t" x="55.5" y="317.8" text-anchor="end">250</text>
<text class="t" x="55.5" y="385.5" text-anchor="end">200</text>
<text class="t" x="55.5" y="453.2" text-anchor="end">150</text>
<text class="t" x="55.5" y="520.9" text-anchor="end">100</text>
<text class="t" x="55.5" y="588.6" text-anchor="end">50</text>
<text class="t" x="55.5" y="656.3" text-anchor="end">0</text>
<text class="t" x="556.5" y="454.8">2</text>
<text class="t" x="556.5" y="555.6">1</text>
<text class="t" x="556.5" y="656.3">0</text>
<text class="t" x="52.1" y="671.8" textLength="21.3" lengthAdjust="spacingAndGlyphs">2000</text>
<text class="t" x="90.6" y="671.8" textLength="21.3" lengthAdjust="spacingAndGlyphs">2500</text>
<text class="t" x="132.7" y="671.8" textLength="21.3" lengthAdjust="spacingAndGlyphs">3000</text>
<text class="t" x="174.7" y="671.8" textLength="21.3" lengthAdjust="spacingAndGlyphs">3500</text>
<text class="t" x="213.2" y="671.8" textLength="21.3" lengthAdjust="spacingAndGlyphs">4000</text>
<text class="t" x="255.3" y="671.8" textLength="21.3" lengthAdjust="spacingAndGlyphs">4500</text>
<text class="t" x="297.1" y="671.8" textLength="21.3" lengthAdjust="spacingAndGlyphs">5000</text>
<text class="t" x="335.8" y="671.8" textLength="21.3" lengthAdjust="spacingAndGlyphs">5500</text>
<text class="t" x="377.8" y="671.8" textLength="21.3" lengthAdjust="spacingAndGlyphs">6000</text>
<text class="t" x="416.7" y="671.8" textLength="21.3" lengthAdjust="spacingAndGlyphs">6500</text>
<text class="t" x="458.8" y="671.8" textLength="21.3" lengthAdjust="spacingAndGlyphs">7000</text>
<text class="t" x="497.6" y="671.8" textLength="21.3" lengthAdjust="spacingAndGlyphs">7500</text>
<text class="t" x="250.5" y="691.5" style="font-size:11px;fill:#444" textLength="125" lengthAdjust="spacingAndGlyphs">エンジン回転数（rpm）</text>
<text class="t" transform="translate(27.0,375.5) rotate(-90)" x="0" y="0" style="font-size:11.5px;fill:#444" textLength="57" lengthAdjust="spacingAndGlyphs">出力（ps）</text>
<text class="t" transform="translate(582.8,591) rotate(-90)" x="0" y="0" style="font-size:10px;fill:#444" textLength="85.5" lengthAdjust="spacingAndGlyphs">過給圧（kg/㎠）</text>
<text x="90.0" y="29" style="font-size:13px;fill:#737373" textLength="57.0" lengthAdjust="spacingAndGlyphs">GTⅡ-RS</text>
<text x="147.0" y="29" style="font-size:13px;fill:#737373" textLength="18.0" lengthAdjust="spacingAndGlyphs">＜＞</text>
<text x="165.0" y="29" style="font-size:13px;fill:#737373" textLength="35.0" lengthAdjust="spacingAndGlyphs">GTⅡ</text>
<text x="202.5" y="29" style="font-size:13px;fill:#737373" textLength="35.0" lengthAdjust="spacingAndGlyphs">7460</text>
<text x="241.5" y="29" style="font-size:13px;fill:#737373" textLength="12.0" lengthAdjust="spacingAndGlyphs">＆</text>
<text x="255.0" y="29" style="font-size:13px;fill:#737373" textLength="38.0" lengthAdjust="spacingAndGlyphs">8262</text>
<text x="295.0" y="29" style="font-size:13px;fill:#737373" textLength="62.0" lengthAdjust="spacingAndGlyphs">比較グラフ</text>
<text x="374.0" y="29" style="font-size:13px;fill:#737373" textLength="44.0" lengthAdjust="spacingAndGlyphs">（最大過給圧</text>
<text x="419.0" y="29" style="font-size:13px;fill:#737373" textLength="79.0" lengthAdjust="spacingAndGlyphs">1.8kg/㎠）</text>
<rect x="331.5" y="252.5" width="165" height="126" fill="#fff" stroke="#707070" stroke-width="1"/>
<line x1="348.4" y1="263.1" x2="374.6" y2="263.1" stroke="#0000ff" stroke-width="2.4" stroke-linecap="round"/>
<text x="386" y="268.1" style="font-size:11px;fill:#555" textLength="86" lengthAdjust="spacingAndGlyphs">GTⅡ 7460 出力</text>
<line x1="348.4" y1="284.3" x2="374.6" y2="284.3" stroke="#00a53c" stroke-width="2.4" stroke-linecap="round"/>
<text x="386" y="289.3" style="font-size:11px;fill:#555" textLength="86" lengthAdjust="spacingAndGlyphs">GTⅡ 8262 出力</text>
<line x1="348.4" y1="305.3" x2="374.6" y2="305.3" stroke="#ff0000" stroke-width="2.4" stroke-linecap="round"/>
<text x="386" y="310.3" style="font-size:11px;fill:#555" textLength="73" lengthAdjust="spacingAndGlyphs">GTⅡ-RS 出力</text>
<line x1="348.4" y1="325.9" x2="374.6" y2="325.9" stroke="#0000ff" stroke-width="2.4" stroke-linecap="round" stroke-dasharray="4.6 5.4"/>
<text x="386" y="330.9" style="font-size:11px;fill:#555" textLength="98" lengthAdjust="spacingAndGlyphs">GTⅡ 7460 過給圧</text>
<line x1="348.4" y1="347.2" x2="374.6" y2="347.2" stroke="#00a53c" stroke-width="2.4" stroke-linecap="round" stroke-dasharray="4.6 5.4"/>
<text x="386" y="352.2" style="font-size:11px;fill:#555" textLength="98" lengthAdjust="spacingAndGlyphs">GTⅡ 8262 過給圧</text>
<line x1="348.4" y1="368.1" x2="374.6" y2="368.1" stroke="#ff0000" stroke-width="2.4" stroke-linecap="round" stroke-dasharray="4.6 5.4"/>
<text x="386" y="373.1" style="font-size:11px;fill:#555" textLength="85" lengthAdjust="spacingAndGlyphs">GTⅡ-RS 過給圧</text>
<g class="wm" opacity="0.36">
<text transform="translate(102.5,40.5) skewX(-4)" style="font-size:18px" textLength="29" lengthAdjust="spacingAndGlyphs">RHD</text>
<text transform="translate(101.5,55.8) skewX(-4)" style="font-size:16.5px" textLength="46" lengthAdjust="spacingAndGlyphs">JAPAN</text>
<text transform="translate(110.5,72.4) skewX(-4)" style="font-size:16px" textLength="36" lengthAdjust="spacingAndGlyphs">.COM</text>
<text transform="translate(102.5,140.5) skewX(-4)" style="font-size:18px" textLength="29" lengthAdjust="spacingAndGlyphs">RHD</text>
<text transform="translate(101.5,155.8) skewX(-4)" style="font-size:16.5px" textLength="46" lengthAdjust="spacingAndGlyphs">JAPAN</text>
<text transform="translate(110.5,172.4) skewX(-4)" style="font-size:16px" textLength="36" lengthAdjust="spacingAndGlyphs">.COM</text>
<text transform="translate(102.5,240.5) skewX(-4)" style="font-size:18px" textLength="29" lengthAdjust="spacingAndGlyphs">RHD</text>
<text transform="translate(101.5,255.8) skewX(-4)" style="font-size:16.5px" textLength="46" lengthAdjust="spacingAndGlyphs">JAPAN</text>
<text transform="translate(110.5,272.4) skewX(-4)" style="font-size:16px" textLength="36" lengthAdjust="spacingAndGlyphs">.COM</text>
<text transform="translate(102.5,340.5) skewX(-4)" style="font-size:18px" textLength="29" lengthAdjust="spacingAndGlyphs">RHD</text>
<text transform="translate(101.5,355.8) skewX(-4)" style="font-size:16.5px" textLength="46" lengthAdjust="spacingAndGlyphs">JAPAN</text>
<text transform="translate(110.5,372.4) skewX(-4)" style="font-size:16px" textLength="36" lengthAdjust="spacingAndGlyphs">.COM</text>
<text transform="translate(102.5,440.5) skewX(-4)" style="font-size:18px" textLength="29" lengthAdjust="spacingAndGlyphs">RHD</text>
<text transform="translate(101.5,455.8) skewX(-4)" style="font-size:16.5px" textLength="46" lengthAdjust="spacingAndGlyphs">JAPAN</text>
<text transform="translate(110.5,472.4) skewX(-4)" style="font-size:16px" textLength="36" lengthAdjust="spacingAndGlyphs">.COM</text>
<text transform="translate(102.5,540.5) skewX(-4)" style="font-size:18px" textLength="29" lengthAdjust="spacingAndGlyphs">RHD</text>
<text transform="translate(101.5,555.8) skewX(-4)" style="font-size:16.5px" textLength="46" lengthAdjust="spacingAndGlyphs">JAPAN</text>
<text transform="translate(110.5,572.4) skewX(-4)" style="font-size:16px" textLength="36" lengthAdjust="spacingAndGlyphs">.COM</text>
<text transform="translate(102.5,640.5) skewX(-4)" style="font-size:18px" textLength="29" lengthAdjust="spacingAndGlyphs">RHD</text>
<text transform="translate(101.5,655.8) skewX(-4)" style="font-size:16.5px" textLength="46" lengthAdjust="spacingAndGlyphs">JAPAN</text>
<text transform="translate(110.5,672.4) skewX(-4)" style="font-size:16px" textLength="36" lengthAdjust="spacingAndGlyphs">.COM</text>
<text transform="translate(353.0,40.5) skewX(-4)" style="font-size:18px" textLength="29" lengthAdjust="spacingAndGlyphs">RHD</text>
<text transform="translate(352.0,55.8) skewX(-4)" style="font-size:16.5px" textLength="46" lengthAdjust="spacingAndGlyphs">JAPAN</text>
<text transform="translate(361.0,72.4) skewX(-4)" style="font-size:16px" textLength="36" lengthAdjust="spacingAndGlyphs">.COM</text>
<text transform="translate(353.0,140.5) skewX(-4)" style="font-size:18px" textLength="29" lengthAdjust="spacingAndGlyphs">RHD</text>
<text transform="translate(352.0,155.8) skewX(-4)" style="font-size:16.5px" textLength="46" lengthAdjust="spacingAndGlyphs">JAPAN</text>
<text transform="translate(361.0,172.4) skewX(-4)" style="font-size:16px" textLength="36" lengthAdjust="spacingAndGlyphs">.COM</text>
<text transform="translate(353.0,240.5) skewX(-4)" style="font-size:18px" textLength="29" lengthAdjust="spacingAndGlyphs">RHD</text>
<text transform="translate(352.0,255.8) skewX(-4)" style="font-size:16.5px" textLength="46" lengthAdjust="spacingAndGlyphs">JAPAN</text>
<text transform="translate(361.0,272.4) skewX(-4)" style="font-size:16px" textLength="36" lengthAdjust="spacingAndGlyphs">.COM</text>
<text transform="translate(353.0,340.5) skewX(-4)" style="font-size:18px" textLength="29" lengthAdjust="spacingAndGlyphs">RHD</text>
<text transform="translate(352.0,355.8) skewX(-4)" style="font-size:16.5px" textLength="46" lengthAdjust="spacingAndGlyphs">JAPAN</text>
<text transform="translate(361.0,372.4) skewX(-4)" style="font-size:16px" textLength="36" lengthAdjust="spacingAndGlyphs">.COM</text>
<text transform="translate(353.0,440.5) skewX(-4)" style="font-size:18px" textLength="29" lengthAdjust="spacingAndGlyphs">RHD</text>
<text transform="translate(352.0,455.8) skewX(-4)" style="font-size:16.5px" textLength="46" lengthAdjust="spacingAndGlyphs">JAPAN</text>
<text transform="translate(361.0,472.4) skewX(-4)" style="font-size:16px" textLength="36" lengthAdjust="spacingAndGlyphs">.COM</text>
<text transform="translate(353.0,540.5) skewX(-4)" style="font-size:18px" textLength="29" lengthAdjust="spacingAndGlyphs">RHD</text>
<text transform="translate(352.0,555.8) skewX(-4)" style="font-size:16.5px" textLength="46" lengthAdjust="spacingAndGlyphs">JAPAN</text>
<text transform="translate(361.0,572.4) skewX(-4)" style="font-size:16px" textLength="36" lengthAdjust="spacingAndGlyphs">.COM</text>
<text transform="translate(353.0,640.5) skewX(-4)" style="font-size:18px" textLength="29" lengthAdjust="spacingAndGlyphs">RHD</text>
<text transform="translate(352.0,655.8) skewX(-4)" style="font-size:16.5px" textLength="46" lengthAdjust="spacingAndGlyphs">JAPAN</text>
<text transform="translate(361.0,672.4) skewX(-4)" style="font-size:16px" textLength="36" lengthAdjust="spacingAndGlyphs">.COM</text>
</g>
</svg>
</body></html>
